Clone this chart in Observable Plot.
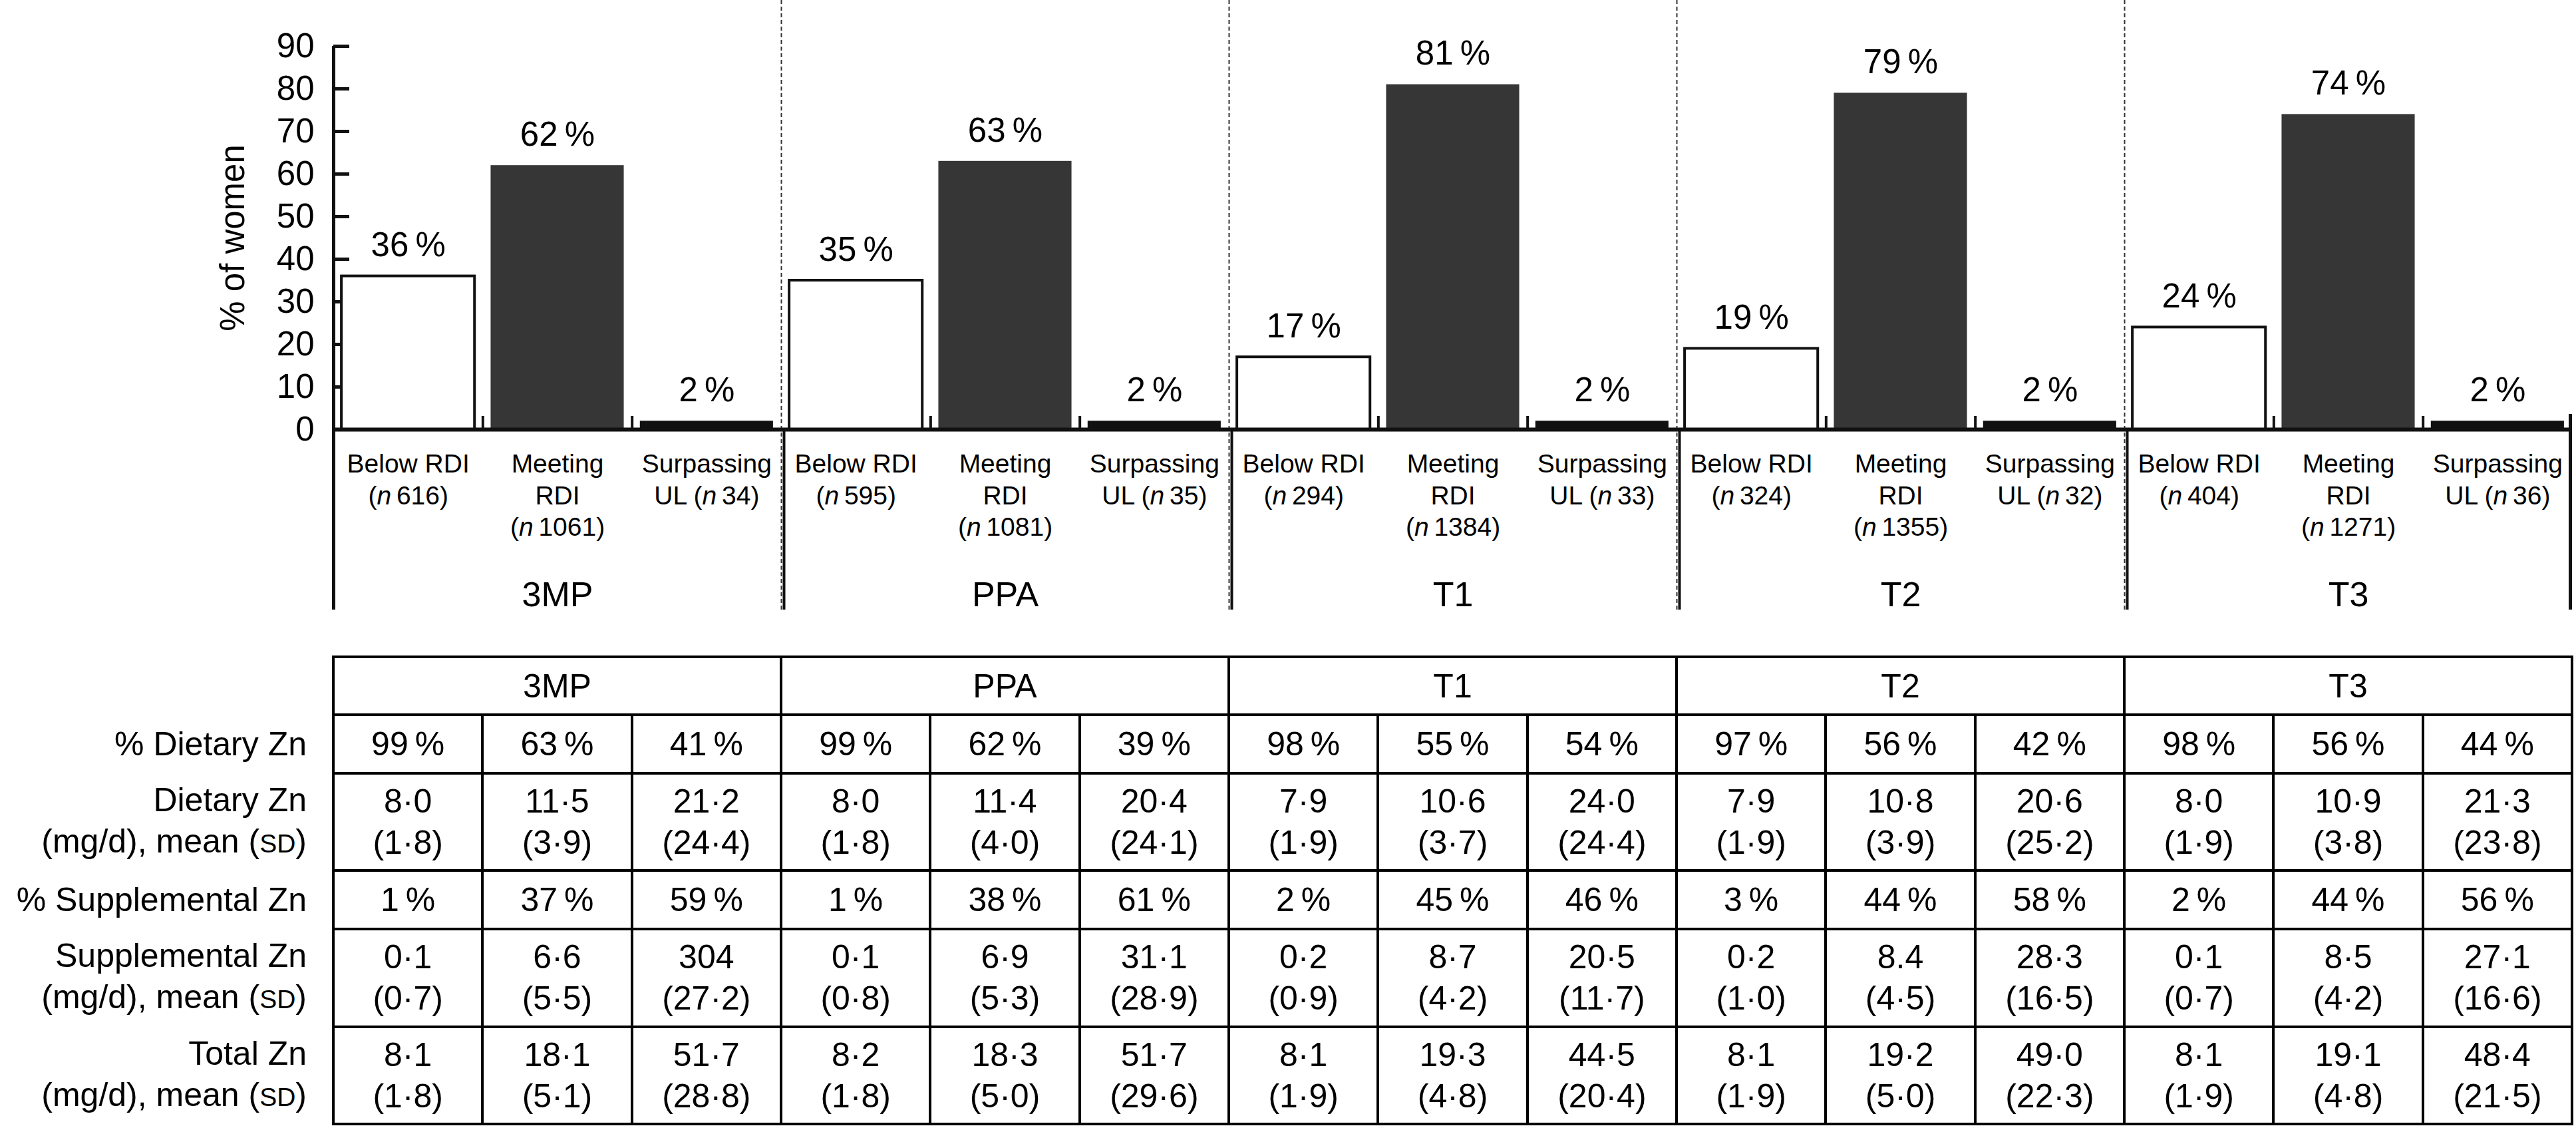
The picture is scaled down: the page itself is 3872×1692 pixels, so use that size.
<!DOCTYPE html>
<html>
<head>
<meta charset="utf-8">
<script src="https://cdn.jsdelivr.net/npm/d3@7"></script>
<script src="https://cdn.jsdelivr.net/npm/@observablehq/plot@0.6"></script>
<style>
  html, body { margin: 0; padding: 0; background: #fff; }
  #wrap { position: relative; width: 3872px; height: 1692px; overflow: hidden; font-family: "Liberation Sans", Arial, Helvetica, sans-serif; }
  #chart { position: absolute; left: 0; top: 0; }
  #tbl { position: absolute; left: 0; top: 985px; border-collapse: collapse; table-layout: fixed; width: 3868px; font-size: 50px; color: #000; }
  #tbl td { padding: 0; text-align: center; vertical-align: middle; line-height: 62px; white-space: nowrap; overflow: visible; }
  #tbl td.v { border: 4px solid #000; }
  #tbl td.lab { border: none; text-align: right; padding-right: 38px; }
  .sc { font-size: 0.78em; }
</style>
</head>
<body>
<div id="wrap">
  <div id="chart"></div>
  <table id="tbl"></table>
</div>
<script>
// ---------------- data ----------------
const groups = ["3MP", "PPA", "T1", "T2", "T3"];
const categories = ["Below RDI", "Meeting RDI", "Surpassing UL"];
const pctWomen = [[36, 62, 2], [35, 63, 2], [17, 81, 2], [19, 79, 2], [24, 74, 2]];
const nWomen = [[616, 1061, 34], [595, 1081, 35], [294, 1384, 33], [324, 1355, 32], [404, 1271, 36]];
const yTicks = [0, 10, 20, 30, 40, 50, 60, 70, 80, 90];

const rowLabels = ["% Dietary Zn", "Dietary Zn|(mg/d), mean (SD)", "% Supplemental Zn", "Supplemental Zn|(mg/d), mean (SD)", "Total Zn|(mg/d), mean (SD)"];
const pctDietary = [[99, 63, 41], [99, 62, 39], [98, 55, 54], [97, 56, 42], [98, 56, 44]];
const dietaryMean = [["8·0", "11·5", "21·2"], ["8·0", "11·4", "20·4"], ["7·9", "10·6", "24·0"], ["7·9", "10·8", "20·6"], ["8·0", "10·9", "21·3"]];
const dietarySD = [["1·8", "3·9", "24·4"], ["1·8", "4·0", "24·1"], ["1·9", "3·7", "24·4"], ["1·9", "3·9", "25·2"], ["1·9", "3·8", "23·8"]];
const pctSupp = [[1, 37, 59], [1, 38, 61], [2, 45, 46], [3, 44, 58], [2, 44, 56]];
const suppMean = [["0·1", "6·6", "304"], ["0·1", "6·9", "31·1"], ["0·2", "8·7", "20·5"], ["0·2", "8.4", "28·3"], ["0·1", "8·5", "27·1"]];
const suppSD = [["0·7", "5·5", "27·2"], ["0·8", "5·3", "28·9"], ["0·9", "4·2", "11·7"], ["1·0", "4·5", "16·5"], ["0·7", "4·2", "16·6"]];
const totalMean = [["8·1", "18·1", "51·7"], ["8·2", "18·3", "51·7"], ["8·1", "19·3", "44·5"], ["8·1", "19·2", "49·0"], ["8·1", "19·1", "48·4"]];
const totalSD = [["1·8", "5·1", "28·8"], ["1·8", "5·0", "29·6"], ["1·9", "4·8", "20·4"], ["1·9", "5·0", "22·3"], ["1·9", "4·8", "21·5"]];

const catLabel = [
  n => `Below RDI\n(n\u2009${n})`,
  n => `Meeting\nRDI\n(n\u2009${n})`,
  n => `Surpassing\nUL (n\u2009${n})`
];
const catFill = ["#ffffff", "#363636", "#111111"];

// ---------------- table for Plot ----------------
const bars = [];
groups.forEach((g, gi) => categories.forEach((c, ci) => {
  bars.push({group: g, cat: c, ci, i: gi * 3 + ci, value: pctWomen[gi][ci], n: nWomen[gi][ci]});
}));
const groupBounds = groups.slice(1).map((g, k) => (k + 1) * 3 - 0.5);
const innerTicks = [];
groups.forEach((g, gi) => { innerTicks.push(gi * 3 + 0.5, gi * 3 + 1.5); });

const W = 3872, H = 930, mT = 69, mB = 285, mL = 501, mR = 6;
const plotH = H - mT - mB, plotW = W - mL - mR;
const below = 916 - (H - mB);
const halfW = 0.446;

const svg = Plot.plot({
  width: W, height: H,
  marginTop: mT, marginBottom: mB, marginLeft: mL, marginRight: mR,
  style: {fontFamily: '"Liberation Sans", Arial, Helvetica, sans-serif', background: "white", color: "#000"},
  x: {type: "linear", domain: [-0.5, groups.length * 3 - 0.5], axis: null},
  y: {domain: [0, 90], axis: null},
  marks: [
    // dashed group separators
    Plot.ruleX(groupBounds, {x: d => d, insetTop: -mT, insetBottom: -below, stroke: "#333", strokeWidth: 2, strokeDasharray: "6,4"}),
    // solid separators below the baseline
    Plot.ruleX(groupBounds, {x: d => d, insetTop: plotH, insetBottom: -below, dx: 4, stroke: "#111", strokeWidth: 4}),
    // inward y ticks
    Plot.ruleY(yTicks.slice(1), {y: d => d, insetRight: plotW - 24, stroke: "#111", strokeWidth: 5}),
    // bars
    ...categories.map((c, ci) => Plot.rect(bars, {
      filter: d => d.ci === ci,
      x1: d => d.i - halfW, x2: d => d.i + halfW, y1: () => 0, y2: "value",
      fill: catFill[ci], stroke: ci === 0 ? "#111" : "none", strokeWidth: ci === 0 ? 4 : 0
    })),
    // small ticks between bars
    Plot.ruleX(innerTicks, {x: d => d, insetTop: plotH - 20, stroke: "#111", strokeWidth: 4}),
    // baseline
    Plot.ruleY([0], {stroke: "#111", strokeWidth: 6}),
    // y axis line
    Plot.ruleX([-0.5], {insetBottom: -below, stroke: "#111", strokeWidth: 5}),
    // right border line
    Plot.ruleX([groups.length * 3 - 0.5], {insetTop: plotH - 23, insetBottom: -below, dx: -3, stroke: "#111", strokeWidth: 5}),
    // y axis labels
    Plot.axisY({ticks: yTicks, tickSize: 0, tickPadding: 29, fontSize: 51, label: "% of women", labelAnchor: "center", labelOffset: 171, labelArrow: "none", fill: "#000"}),
    // value labels
    Plot.text(bars, {x: "i", y: "value", text: d => `${d.value}\u2009%`, dy: -46, fontSize: 51, lineAnchor: "middle", fill: "#000"}),
    // category labels
    Plot.text(bars, {x: "i", frameAnchor: "bottom", text: d => catLabel[d.ci](d.n), lineAnchor: "top", dy: 31, fontSize: 39, lineHeight: 1.22, fill: "#000"}),
    // group labels
    Plot.text(groups, {x: (d, k) => k * 3 + 1, frameAnchor: "bottom", text: d => d, lineAnchor: "middle", dy: 249, fontSize: 52, fill: "#000"})
  ]
});

// italic "n"
d3.select(svg).selectAll("tspan").each(function () {
  const t = this.textContent;
  const m = t.match(/^(.*\()n(\u2009.*)$/);
  if (m) {
    this.textContent = "";
    const s = d3.select(this);
    s.append("tspan").text(m[1]);
    s.append("tspan").attr("font-style", "italic").text("n");
    s.append("tspan").text(m[2]);
  }
});
document.getElementById("chart").appendChild(svg);

// ---------------- HTML table ----------------
const tbl = document.getElementById("tbl");
const colW = plotW / 15;
let html = `<colgroup><col style="width:${mL}px">` + groups.map(() => `<col style="width:${colW}px"><col style="width:${colW}px"><col style="width:${colW}px">`).join("") + `</colgroup>`;
const rowH = [87, 87.5, 146.5, 88, 146.5, 146.5];
const labHtml = s => s.replace("(SD)", '(<span class="sc">SD</span>)').split("|").join("<br>");
html += `<tr style="height:${rowH[0]}px"><td class="lab"></td>` + groups.map(g => `<td class="v" colspan="3">${g}</td>`).join("") + `</tr>`;
const rowCells = [
  (gi, ci) => `${pctDietary[gi][ci]}\u2009%`,
  (gi, ci) => `${dietaryMean[gi][ci]}<br>(${dietarySD[gi][ci]})`,
  (gi, ci) => `${pctSupp[gi][ci]}\u2009%`,
  (gi, ci) => `${suppMean[gi][ci]}<br>(${suppSD[gi][ci]})`,
  (gi, ci) => `${totalMean[gi][ci]}<br>(${totalSD[gi][ci]})`
];
rowLabels.forEach((lab, r) => {
  html += `<tr style="height:${rowH[r + 1]}px"><td class="lab">${labHtml(lab)}</td>`;
  groups.forEach((g, gi) => categories.forEach((c, ci) => {
    html += `<td class="v">${rowCells[r](gi, ci)}</td>`;
  }));
  html += `</tr>`;
});
tbl.innerHTML = html;
</script>
</body>
</html>
